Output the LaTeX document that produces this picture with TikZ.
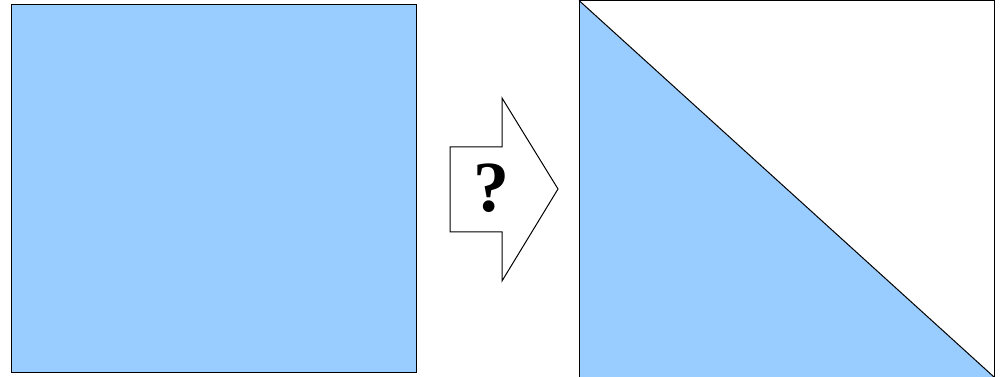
\documentclass[tikz,border=0pt]{standalone}
\usepackage{fontspec}
\setmainfont{Liberation Serif}
\definecolor{paleblue}{HTML}{99CCFF}
\tikzset{outline/.style = {draw=black, line width=0.75pt}}

\begin{document}
\begin{tikzpicture}[x=0.75pt, y=-0.75pt]
  \useasboundingbox (0,0) rectangle (1005,377);
  % square before
  \draw[outline, fill=paleblue] (11,5) rectangle (416,372);
  % square after, cut along the diagonal
  \begin{scope}
    \clip (0,0) rectangle (1005,377);
    \fill[paleblue] (579,0.5) -- (994,377) -- (579,377) -- cycle;
    \draw[outline] (579,0.5) -- (994,377);
    \draw[outline] (579,0.5) rectangle (994,400);
  \end{scope}
  % arrow with question
  \draw[outline] (450,147) -- (502,147) -- (502,98) -- (558,189)
    -- (502,281) -- (502,232) -- (450,232) -- cycle;
  \node[anchor=base, inner sep=0pt, font=\fontsize{54}{54}\selectfont\bfseries] (q) at (491,212) {?};
\end{tikzpicture}
\end{document}
